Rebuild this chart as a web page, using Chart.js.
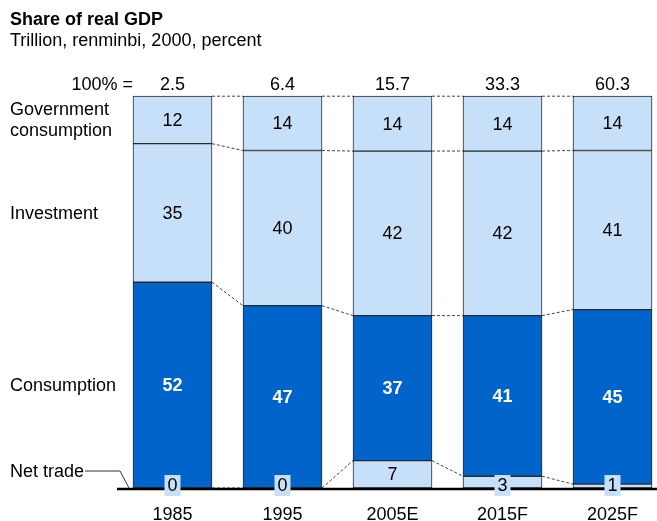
<!DOCTYPE html>
<html>
<head>
<meta charset="utf-8">
<script src="https://cdn.jsdelivr.net/npm/chart.js@4.4.0/dist/chart.umd.min.js"></script>
<style>
  html, body { margin: 0; padding: 0; background: #fff; }
</style>
</head>
<body>
<canvas id="gdpChart" width="657" height="521"></canvas>
<script>
const years = ['1985', '1995', '2005E', '2015F', '2025F'];
const totals = ['2.5', '6.4', '15.7', '33.3', '60.3'];
const netTrade = [0, 0, 7, 3, 1];
const consumption = [52, 47, 37, 41, 45];
const investment = [35, 40, 42, 42, 41];
const government = [12, 14, 14, 14, 14];

const FONT = "'Liberation Sans', Arial, sans-serif";
const DARK = '#0064CA';
const LIGHT = '#C6E0F9';

Chart.defaults.font.family = FONT;
Chart.defaults.color = '#000';

// each bar is drawn as shares of its own total so all tops line up at 100%
const sums = years.map((_, i) => netTrade[i] + consumption[i] + investment[i] + government[i]);
const share = arr => arr.map((v, i) => v / sums[i] * 100);

function series(label, values, color) {
    return {
        label: label,
        data: share(values),
        raw: values,
        backgroundColor: color,
        borderColor: '#2a2a2a',
        borderWidth: 1,
        borderSkipped: false,
        barThickness: 79,
        clip: false
    };
}

const annotations = {
    id: 'annotations',
    beforeDatasetsDraw(chart) {
        const ctx = chart.ctx;
        // dashed links between matching segment edges of neighbouring bars
        ctx.save();
        ctx.strokeStyle = '#444';
        ctx.lineWidth = 1;
        ctx.setLineDash([3, 2]);
        chart.data.datasets.forEach((ds, d) => {
            const bars = chart.getDatasetMeta(d).data;
            for (let i = 0; i < bars.length - 1; i++) {
                const a = bars[i], b = bars[i + 1];
                ctx.beginPath();
                ctx.moveTo(a.x + a.width / 2, a.y);
                ctx.lineTo(b.x - b.width / 2, b.y);
                ctx.stroke();
            }
        });
        ctx.restore();
    },
    afterDatasetsDraw(chart) {
        const ctx = chart.ctx;
        const area = chart.chartArea;
        const first = chart.getDatasetMeta(0).data[0];

        ctx.save();
        // axis base line
        ctx.strokeStyle = '#000';
        ctx.lineWidth = 2.5;
        ctx.beginPath();
        ctx.moveTo(117, area.bottom + 1);
        ctx.lineTo(chart.width, area.bottom + 1);
        ctx.stroke();

        ctx.font = '18px ' + FONT;
        ctx.textAlign = 'center';
        ctx.textBaseline = 'middle';

        // values inside the segments
        chart.data.datasets.forEach((ds, d) => {
            const bars = chart.getDatasetMeta(d).data;
            bars.forEach((bar, i) => {
                const v = ds.raw[i];
                let y = (bar.y + bar.base) / 2;
                if (d === 0 && v < 5) {
                    y = area.bottom - 3;
                    ctx.fillStyle = LIGHT;
                    ctx.fillRect(bar.x - 8, y - 10, 16, 21);
                }
                ctx.font = (d === 1 ? 'bold ' : '') + '18px ' + FONT;
                ctx.fillStyle = d === 1 ? '#fff' : '#000';
                ctx.fillText(String(v), bar.x, y + 1);
            });
        });

        // totals above the bars
        ctx.font = '18px ' + FONT;
        ctx.fillStyle = '#000';
        chart.getDatasetMeta(0).data.forEach((bar, i) => {
            ctx.fillText(totals[i], bar.x, area.top - 11);
        });
        ctx.textAlign = 'right';
        ctx.fillText('100% =', first.x - first.width / 2, area.top - 11);

        // series names beside the first bar
        ctx.textAlign = 'left';
        const seg = d => {
            const b = chart.getDatasetMeta(d).data[0];
            return (b.y + b.base) / 2;
        };
        const gy = seg(3);
        ctx.fillText('Government', 10, gy - 10);
        ctx.fillText('consumption', 10, gy + 11);
        ctx.fillText('Investment', 10, seg(2) + 1);
        ctx.fillText('Consumption', 10, seg(1) + 1);

        const ny = area.bottom - 16;
        ctx.fillText('Net trade', 10, ny);
        const end = 10 + ctx.measureText('Net trade').width + 1;
        ctx.strokeStyle = '#333';
        ctx.lineWidth = 1;
        ctx.beginPath();
        ctx.moveTo(end, ny - 1);
        ctx.lineTo(120, ny - 1);
        ctx.lineTo(129, area.bottom);
        ctx.stroke();
        ctx.restore();
    }
};

new Chart(document.getElementById('gdpChart').getContext('2d'), {
    type: 'bar',
    data: {
        labels: years,
        datasets: [
            series('Net trade', netTrade, LIGHT),
            series('Consumption', consumption, DARK),
            series('Investment', investment, LIGHT),
            series('Government consumption', government, LIGHT)
        ]
    },
    options: {
        responsive: false,
        animation: false,
        layout: {
            padding: { left: 10, right: 44.5, top: 0, bottom: 0 }
        },
        plugins: {
            legend: { display: false },
            tooltip: { enabled: false },
            title: {
                display: true,
                text: 'Share of real GDP',
                align: 'start',
                color: '#000',
                font: { size: 18, weight: 'bold' },
                padding: { top: 9, bottom: 0 }
            },
            subtitle: {
                display: true,
                text: 'Trillion, renminbi, 2000, percent',
                align: 'start',
                color: '#000',
                font: { size: 18 },
                padding: { top: 0, bottom: 44 }
            }
        },
        scales: {
            x: {
                stacked: true,
                offset: false,
                grid: { display: false, drawTicks: false },
                border: { display: false },
                ticks: { font: { size: 18 }, padding: 16, maxRotation: 0, autoSkip: false },
                afterFit: s => { s.height = 33; }
            },
            y: {
                stacked: true,
                min: 0,
                max: 100,
                ticks: { display: false },
                grid: { display: false, drawTicks: false },
                border: { display: false },
                afterFit: s => { s.width = 162.5; }
            }
        }
    },
    plugins: [annotations]
});
</script>
</body>
</html>
